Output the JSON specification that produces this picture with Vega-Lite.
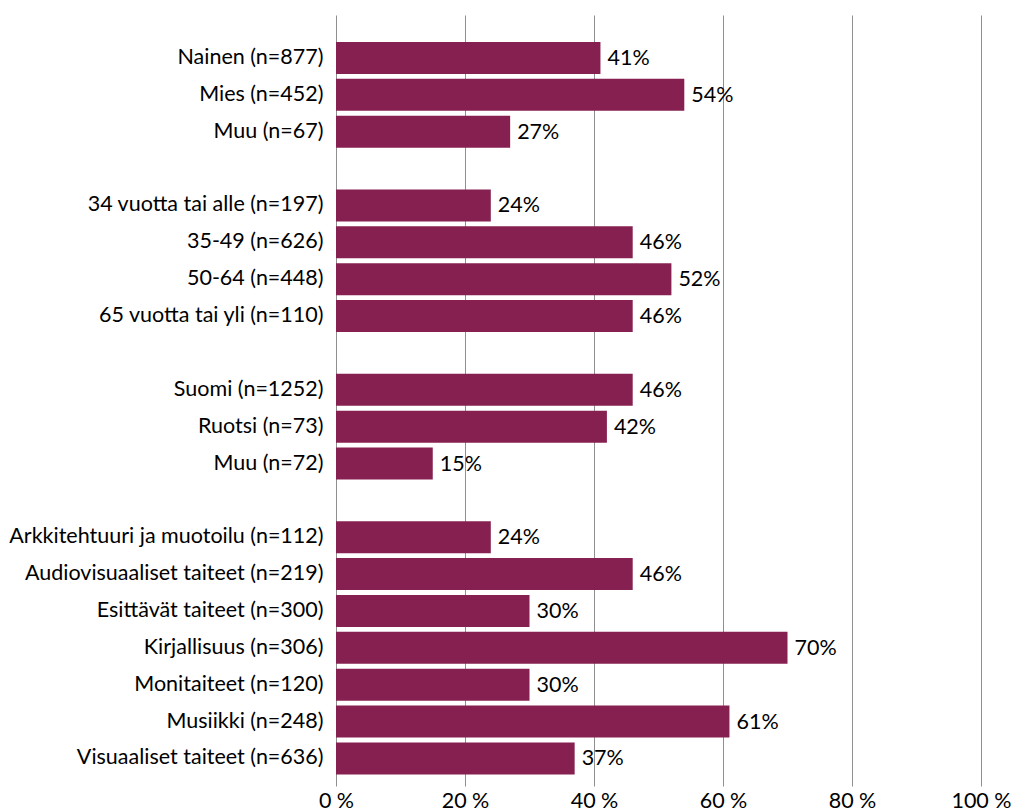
{
  "$schema": "https://vega.github.io/schema/vega-lite/v6.json",
  "autosize": {"type": "none"},
  "padding": {"left": 336, "top": 15, "right": 38, "bottom": 26},
  "width": 645,
  "height": 771,
  "background": "white",
  "config": {
    "view": {"stroke": null},
    "font": "Lato",
    "axis": {"labelFont": "Lato", "labelFontSize": 21.5, "labelColor": "#000000"}
  },
  "data": {
    "values": [
      {"cat": "Nainen (n=877)", "v": 0.41},
      {"cat": "Mies (n=452)", "v": 0.54},
      {"cat": "Muu (n=67)", "v": 0.27},
      {"cat": "34 vuotta tai alle (n=197)", "v": 0.24},
      {"cat": "35-49 (n=626)", "v": 0.46},
      {"cat": "50-64 (n=448)", "v": 0.52},
      {"cat": "65 vuotta tai yli (n=110)", "v": 0.46},
      {"cat": "Suomi (n=1252)", "v": 0.46},
      {"cat": "Ruotsi (n=73)", "v": 0.42},
      {"cat": "Muu (n=72)", "v": 0.15},
      {"cat": "Arkkitehtuuri ja muotoilu (n=112)", "v": 0.24},
      {"cat": "Audiovisuaaliset taiteet (n=219)", "v": 0.46},
      {"cat": "Esittävät taiteet (n=300)", "v": 0.30},
      {"cat": "Kirjallisuus (n=306)", "v": 0.70},
      {"cat": "Monitaiteet (n=120)", "v": 0.30},
      {"cat": "Musiikki (n=248)", "v": 0.61},
      {"cat": "Visuaaliset taiteet (n=636)", "v": 0.37}
    ]
  },
  "encoding": {
    "y": {
      "field": "cat",
      "type": "nominal",
      "title": null,
      "scale": {
        "domain": [
          "Nainen (n=877)", "Mies (n=452)", "Muu (n=67)", " ",
          "34 vuotta tai alle (n=197)", "35-49 (n=626)", "50-64 (n=448)", "65 vuotta tai yli (n=110)", "  ",
          "Suomi (n=1252)", "Ruotsi (n=73)", "Muu (n=72)", "   ",
          "Arkkitehtuuri ja muotoilu (n=112)", "Audiovisuaaliset taiteet (n=219)", "Esittävät taiteet (n=300)",
          "Kirjallisuus (n=306)", "Monitaiteet (n=120)", "Musiikki (n=248)", "Visuaaliset taiteet (n=636)"
        ],
        "paddingInner": 0.132,
        "paddingOuter": 0.522,
        "align": 0.7
      },
      "axis": {"domain": false, "ticks": false, "grid": false, "labelPadding": 13, "labelLimit": 400}
    },
    "x": {
      "field": "v",
      "type": "quantitative",
      "title": null,
      "scale": {"domain": [0, 1], "nice": false},
      "axis": {
        "values": [0, 0.2, 0.4, 0.6, 0.8, 1],
        "labelExpr": "format(datum.value * 100, '.0f') + ' %'",
        "domain": false,
        "ticks": false,
        "grid": true,
        "gridColor": "#8f8f8f",
        "gridWidth": 1,
        "labelPadding": 4,
        "labelFlush": false
      }
    }
  },
  "layer": [
    {"mark": {"type": "bar", "color": "#862050"}},
    {
      "mark": {"type": "text", "align": "left", "baseline": "middle", "dx": 7, "dy": 1, "fontSize": 21.5, "font": "Lato", "color": "#000000"},
      "encoding": {"text": {"field": "v", "type": "quantitative", "format": ".0%"}}
    }
  ]
}
